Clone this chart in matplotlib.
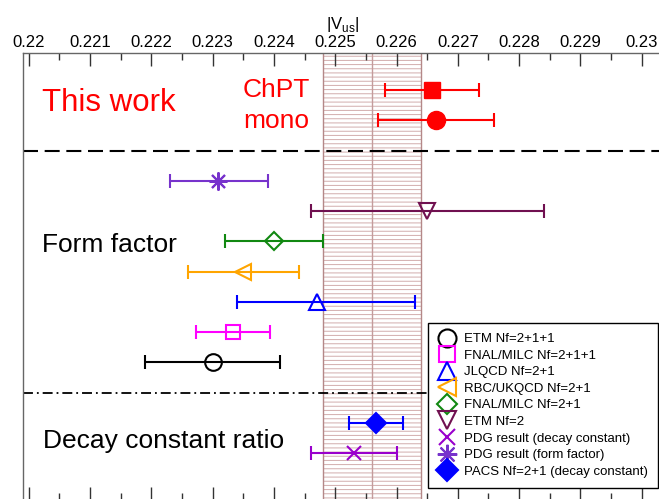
"""|V_us| comparison chart."""

import matplotlib as mpl
from matplotlib import pyplot as plt
from matplotlib.lines import Line2D

mpl.use("Agg")

plt.rcParams["font.family"] = ["Liberation Sans", "DejaVu Sans"]
plt.rcParams["mathtext.fontset"] = "custom"
plt.rcParams["mathtext.rm"] = "Liberation Sans"
plt.rcParams["hatch.linewidth"] = 0.7

# This work (ChPT, mono)
this_labels = ["ChPT", "mono"]
this_rows = [1, 2]
this_vals = [0.22658, 0.22664]
this_err = [0.00076, 0.00095]

# Lattice / PDG results
ff_labels = [
    "PDG result (form factor)",
    "ETM Nf=2",
    "FNAL/MILC Nf=2+1",
    "RBC/UKQCD Nf=2+1",
    "JLQCD Nf=2+1",
    "FNAL/MILC Nf=2+1+1",
    "ETM Nf=2+1+1",
]
ff_rows = [4, 5, 6, 7, 8, 9, 10]
ff_vals = [0.22309, 0.22650, 0.22400, 0.22349, 0.22471, 0.22334, 0.22300]
ff_err_lo = [0.00079, 0.00190, 0.00080, 0.00089, 0.00131, 0.00061, 0.00110]
ff_err_hi = [0.00082, 0.00190, 0.00080, 0.00092, 0.00159, 0.00060, 0.00110]

dc_labels = ["PACS Nf=2+1 (decay constant)", "PDG result (decay constant)"]
dc_rows = [12, 13]
dc_vals = [0.22567, 0.22530]
dc_err_lo = [0.00044, 0.00070]
dc_err_hi = [0.00043, 0.00070]

band_center = 0.2256
band_half = 0.0008

tick_vals = [0.22, 0.221, 0.222, 0.223, 0.224, 0.225, 0.226, 0.227, 0.228, 0.229, 0.23]
tick_labels = ["0.22", "0.221", "0.222", "0.223", "0.224", "0.225",
               "0.226", "0.227", "0.228", "0.229", "0.23"]

styles = {
    "ETM Nf=2+1+1": dict(marker="o", color="black", ms=12, filled=False),
    "FNAL/MILC Nf=2+1+1": dict(marker="s", color="#ff00ff", ms=10, filled=False),
    "JLQCD Nf=2+1": dict(marker="^", color="#0000ff", ms=12, filled=False),
    "RBC/UKQCD Nf=2+1": dict(marker="<", color="#ffa500", ms=12, filled=False),
    "FNAL/MILC Nf=2+1": dict(marker="D", color="#118811", ms=9, filled=False),
    "ETM Nf=2": dict(marker="v", color="#701050", ms=12, filled=False),
    "PDG result (decay constant)": dict(marker="x", color="#9900cc", ms=10, filled=False),
    "PDG result (form factor)": dict(marker=(8, 2, 0), color="#7733cc", ms=13, filled=False),
    "PACS Nf=2+1 (decay constant)": dict(marker="D", color="#0000ff", ms=10, filled=True),
}
legend_order = ["ETM Nf=2+1+1", "FNAL/MILC Nf=2+1+1", "JLQCD Nf=2+1",
                "RBC/UKQCD Nf=2+1", "FNAL/MILC Nf=2+1", "ETM Nf=2",
                "PDG result (decay constant)", "PDG result (form factor)",
                "PACS Nf=2+1 (decay constant)"]

fig = plt.figure(figsize=(6.59, 4.99), dpi=100)
ax = fig.add_axes([0.03445, -0.003, 0.9701, 0.8968])

# hatched band
ax.axvspan(band_center - band_half, band_center + band_half, facecolor="none",
           edgecolor="#d2adad", hatch="----", lw=0, zorder=1)
ax.axvline(band_center - band_half, color="#b48888", lw=1.0, zorder=1)
ax.axvline(band_center + band_half, color="#b48888", lw=1.0, zorder=1)
ax.axvline(band_center, color="#c49c9c", lw=1.0, zorder=1)

# separators
ax.axhline(3, color="black", lw=1.5, ls=(0, (7.2, 3.2)), zorder=2)
ax.axhline(11, color="black", lw=1.3, ls=(0, (5.5, 2.2, 1.0, 2.2)), zorder=2)

markers_this = ["s", "o"]
sizes_this = [11, 13]
for i in range(len(this_vals)):
    ax.errorbar(this_vals[i], this_rows[i], xerr=this_err[i], fmt="",
                marker=markers_this[i], ls="none",
                color="#ff0000", ms=sizes_this[i], capsize=4.7, elinewidth=1.5,
                capthick=1.5, zorder=3)


def draw_point(label, row, val, lo, hi):
    st = styles[label]
    ax.errorbar(val, row, xerr=[[lo], [hi]], fmt="", marker=st["marker"], ls="none",
                color=st["color"], ms=st["ms"],
                mfc=st["color"] if st["filled"] else "none",
                mew=1.5, capsize=4.7, elinewidth=1.5, capthick=1.5, zorder=3)


for i, lab in enumerate(ff_labels):
    draw_point(lab, ff_rows[i], ff_vals[i], ff_err_lo[i], ff_err_hi[i])
for i, lab in enumerate(dc_labels):
    draw_point(lab, dc_rows[i], dc_vals[i], dc_err_lo[i], dc_err_hi[i])

# section labels
ax.text(0.220217, 1.684, "This work", color="#ff0000", fontsize=22.5, va="baseline")
ax.text(0.22404, 1.22, "ChPT", color="#ff0000", fontsize=19, va="baseline", ha="center")
ax.text(0.22404, 2.265, "mono", color="#ff0000", fontsize=19, va="baseline", ha="center")
ax.text(0.220217, 6.35, "Form factor", fontsize=19, va="baseline")
ax.text(0.220233, 12.837, "Decay constant ratio", fontsize=19, va="baseline")

# axes
ax.set_xlim(0.219902, 0.230331)
ax.set_ylim(14.56, -0.222)
ax.set_xticks(tick_vals)
ax.set_xticklabels(tick_labels)
ax.set_xticks([v + 0.0005 for v in tick_vals[:-1]], minor=True)
ax.set_yticks([])
ax.tick_params(axis="x", which="both", direction="in", top=True, bottom=True,
               labeltop=True, labelbottom=False, color="#333333", width=1.0)
ax.tick_params(axis="x", which="major", length=9.7, pad=2.5, labelsize=12)
ax.tick_params(axis="x", which="minor", length=4.8)
ax.xaxis.set_label_position("top")
ax.set_xlabel(r"|V$_{\rm us}$|", fontsize=12, labelpad=4)
for sp in ax.spines.values():
    sp.set_color("#666666")
    sp.set_linewidth(1.0)

# legend with marker-only handles
handles = []
for lab in legend_order:
    st = styles[lab]
    handles.append(Line2D([], [], ls="none", marker=st["marker"], color=st["color"],
                          ms=st["ms"] + 1, mew=1.5,
                          mfc=st["color"] if st["filled"] else "none", label=lab))
leg = ax.legend(handles=handles, loc="upper left",
                bbox_to_anchor=(428 / 659, 1 - 323 / 499),
                bbox_transform=fig.transFigure, fontsize=9.5, frameon=True,
                fancybox=False, framealpha=1, edgecolor="black",
                handlelength=1.44, handletextpad=0.52, labelspacing=0.33,
                borderpad=0.75, borderaxespad=0)
leg.get_frame().set_linewidth(1.0)
leg.set_zorder(5)

fig.savefig("out.png", dpi=100)
plt.close(fig)
